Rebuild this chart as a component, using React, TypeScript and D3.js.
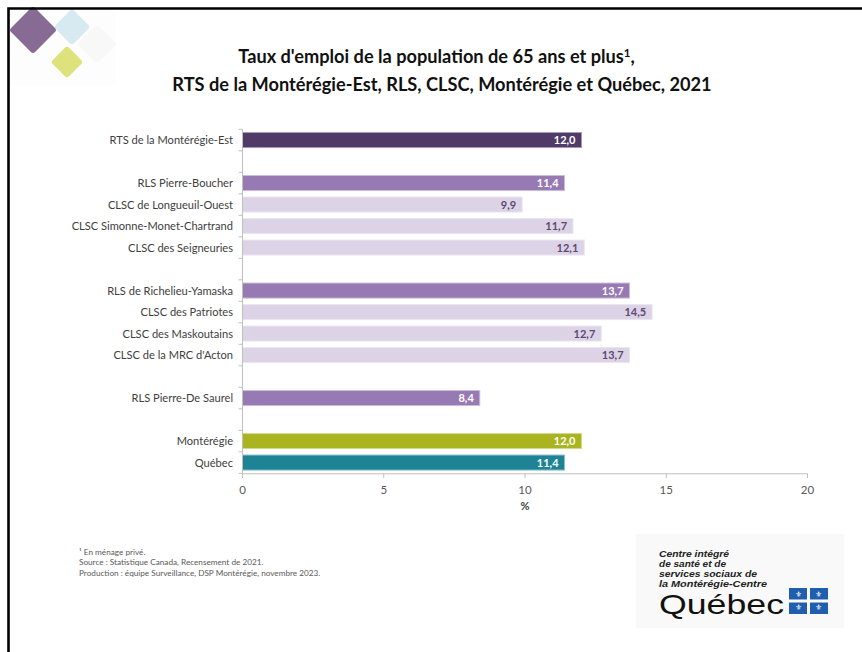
import React from "react";
import * as d3 from "d3";

const categories = [
  "RTS de la Montérégie-Est",
  "RLS Pierre-Boucher",
  "CLSC de Longueuil-Ouest",
  "CLSC Simonne-Monet-Chartrand",
  "CLSC des Seigneuries",
  "RLS de Richelieu-Yamaska",
  "CLSC des Patriotes",
  "CLSC des Maskoutains",
  "CLSC de la MRC d'Acton",
  "RLS Pierre-De Saurel",
  "Montérégie",
  "Québec",
];
const values = [12.0, 11.4, 9.9, 11.7, 12.1, 13.7, 14.5, 12.7, 13.7, 8.4, 12.0, 11.4];
const levels = ["RTS", "RLS", "CLSC", "CLSC", "CLSC", "RLS", "CLSC", "CLSC", "CLSC", "RLS", "MTG", "QC"];
// slot order including blank separator rows
const slots = [
  "RTS de la Montérégie-Est",
  "_gap1",
  "RLS Pierre-Boucher",
  "CLSC de Longueuil-Ouest",
  "CLSC Simonne-Monet-Chartrand",
  "CLSC des Seigneuries",
  "_gap2",
  "RLS de Richelieu-Yamaska",
  "CLSC des Patriotes",
  "CLSC des Maskoutains",
  "CLSC de la MRC d'Acton",
  "_gap3",
  "RLS Pierre-De Saurel",
  "_gap4",
  "Montérégie",
  "Québec",
];
const xTicks = [0, 5, 10, 15, 20];
const footnotes = [
  "¹ En ménage privé.",
  "Source : Statistique Canada, Recensement de 2021.",
  "Production : équipe Surveillance, DSP Montérégie, novembre 2023.",
];
const logoLines = ["Centre intégré", "de santé et de", "services sociaux de", "la Montérégie-Centre"];

const fillBy: Record<string, string> = {
  RTS: "#503a68",
  RLS: "#9779b3",
  CLSC: "#ddd3e7",
  MTG: "#aab41f",
  QC: "#1e8495",
};
const strokeBy: Record<string, string> = {
  RTS: "#a898b8",
  RLS: "#cbbcd9",
  CLSC: "#ece6f2",
  MTG: "#d4d98f",
  QC: "#8fc1ca",
};
const labelColor: Record<string, string> = {
  RTS: "#ffffff",
  RLS: "#ffffff",
  CLSC: "#5b4a70",
  MTG: "#ffffff",
  QC: "#ffffff",
};

const FONT = "Lato, 'Open Sans', sans-serif";

export default function App() {
  const W = 862;
  const H = 652;
  const x = d3.scaleLinear().domain([0, 20]).range([242.5, 807.5]);
  const y = d3
    .scaleBand<string>()
    .domain(slots)
    .range([129.3, 473.3])
    .paddingInner(0.3)
    .paddingOuter(0.15);
  const step = y.step();
  const boundaries = slots.map((s) => (y(s) as number) - (y.paddingInner() * step) / 2);
  boundaries.push(y.range()[1]);

  const axisColor = "#bfbfbf";

  return (
    <svg
      width={W}
      height={H}
      style={{ position: "fixed", left: 0, top: 0, background: "#fff", display: "block" }}
    >
      <rect x={0} y={0} width={W} height={H} fill="#fff" />
      {/* logo top-left */}
      <rect x={10} y={10} width={106} height={76} fill="#fdfdfd" />
      <g>
        <rect x={-14} y={-14} width={28} height={28} rx={3} fill="#f8f8f8" transform="translate(97,44) rotate(45)" />
        <rect x={-13} y={-13} width={26} height={26} rx={3} fill="#d7e9f1" transform="translate(72,27) rotate(45)" />
        <rect x={-17} y={-17} width={34} height={34} rx={3} fill="#886b95" transform="translate(33,30) rotate(45)" />
        <rect x={-11.5} y={-11.5} width={23} height={23} rx={3} fill="#dde27c" transform="translate(67,62) rotate(45)" />
      </g>
      {/* frame */}
      <path d="M8.5,652 V8.5 H862" fill="none" stroke="#000" strokeWidth={2.6} />

      {/* title */}
      <text x={436.5} y={63} textAnchor="middle" fontFamily={FONT} fontWeight={700} fontSize={18.2} fill="#111">
        Taux d'emploi de la population de 65 ans et plus
        <tspan fontSize={11.5} dy={-6.5}>1</tspan>
        <tspan dy={6.5}>,</tspan>
      </text>
      <text x={442} y={91} textAnchor="middle" fontFamily={FONT} fontWeight={700} fontSize={18.2} fill="#111">
        RTS de la Montérégie-Est, RLS, CLSC, Montérégie et Québec, 2021
      </text>

      {/* bars */}
      {categories.map((c, i) => {
        const lv = levels[i];
        const y0 = y(c) as number;
        const bw = y.bandwidth();
        return (
          <g key={c}>
            <rect
              x={x(0)}
              y={y0}
              width={x(values[i]) - x(0)}
              height={bw}
              fill={fillBy[lv]}
              stroke={strokeBy[lv]}
              strokeWidth={1}
            />
            <text
              x={x(values[i]) - 6}
              y={y0 + bw / 2}
              dy="0.36em"
              textAnchor="end"
              fontFamily={FONT}
              fontWeight={700}
              fontSize={11}
              fill={labelColor[lv]}
            >
              {d3.format(".1f")(values[i]).replace(".", ",")}
            </text>
            <text
              x={233}
              y={y0 + bw / 2}
              dy="0.36em"
              textAnchor="end"
              fontFamily={FONT}
              fontSize={11.1}
              fill="#404040"
            >
              {c}
            </text>
          </g>
        );
      })}

      {/* y axis */}
      <line x1={x(0)} x2={x(0)} y1={y.range()[0]} y2={y.range()[1]} stroke={axisColor} strokeWidth={1} />
      {boundaries.map((b, i) => (
        <line key={i} x1={x(0) - 4} x2={x(0)} y1={b} y2={b} stroke={axisColor} strokeWidth={1} />
      ))}

      {/* x axis */}
      <line x1={x(0)} x2={x(20)} y1={473.8} y2={473.8} stroke={axisColor} strokeWidth={1} />
      {xTicks.map((t) => (
        <g key={t}>
          <line x1={x(t)} x2={x(t)} y1={473.8} y2={478} stroke={axisColor} strokeWidth={1} />
          <text x={x(t)} y={494} textAnchor="middle" fontFamily={FONT} fontSize={11.5} fill="#595959">
            {t}
          </text>
        </g>
      ))}
      <text x={x(10)} y={510} textAnchor="middle" fontFamily={FONT} fontWeight={700} fontSize={11} fill="#404040">
        %
      </text>

      {/* footnotes */}
      {footnotes.map((f, i) => (
        <text key={i} x={79} y={555 + i * 10.3} fontFamily={FONT} fontSize={8.2} fill="#595959">
          {f}
        </text>
      ))}

      {/* Québec logo */}
      <rect x={636} y={534} width={208} height={94} fill="#f9f9f9" />
      {logoLines.map((l, i) => (
        <text
          key={i}
          x={659}
          y={557 + i * 10}
          fontFamily="'Liberation Sans', Arial, sans-serif"
          fontStyle="italic"
          fontWeight={700}
          fontSize={9.6}
          fill="#222"
          textLength={[70, 67, 98, 108][i]}
          lengthAdjust="spacingAndGlyphs"
        >
          {l}
        </text>
      ))}
      <text
        x={659}
        y={614}
        fontFamily="'Liberation Sans', Arial, sans-serif"
        fontSize={28}
        fill="#111"
        textLength={125}
        lengthAdjust="spacingAndGlyphs"
      >
        Québec
      </text>
      <g>
        <rect x={789} y={588} width={39} height={26} fill="#1f5fae" />
        <line x1={808.5} x2={808.5} y1={588} y2={614} stroke="#fff" strokeWidth={3} />
        <line x1={789} x2={828} y1={601} y2={601} stroke="#fff" strokeWidth={3} />
        {[
          [798.5, 594.5],
          [818.5, 594.5],
          [798.5, 607.5],
          [818.5, 607.5],
        ].map(([cx, cy], i) => (
          <text key={i} x={cx} y={cy} dy="0.35em" textAnchor="middle" fontFamily="'DejaVu Sans'" fontSize={8} fill="#fff">
            ⚜
          </text>
        ))}
      </g>
    </svg>
  );
}
